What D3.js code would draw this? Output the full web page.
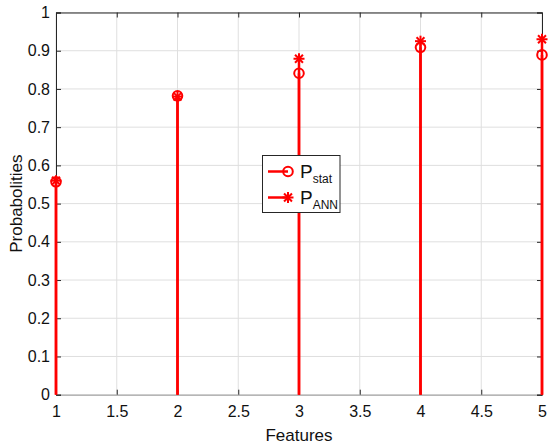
<!DOCTYPE html>
<html>
<head>
<meta charset="utf-8">
<script src="https://cdn.jsdelivr.net/npm/d3@7"></script>
<style>
  body { margin: 0; background: #fff; }
  svg { font-family: "Liberation Sans", Arial, sans-serif; }
</style>
</head>
<body>
<div id="chart"></div>
<script>
// chart data
const features = [1, 2, 3, 4, 5];
const pStat = [0.557, 0.782, 0.841, 0.909, 0.889];
const pAnn = [0.560, 0.780, 0.879, 0.925, 0.930];
const xTicks = [1, 1.5, 2, 2.5, 3, 3.5, 4, 4.5, 5];
const yTicks = [0, 0.1, 0.2, 0.3, 0.4, 0.5, 0.6, 0.7, 0.8, 0.9, 1];

const width = 549, height = 446;
const margin = { top: 12.5, right: 7, bottom: 51.3, left: 56 };
const red = "#ff0000";

const svg = d3.select("#chart").append("svg")
  .attr("width", width)
  .attr("height", height);

const x = d3.scaleLinear().domain([1, 5]).range([margin.left, width - margin.right]);
const y = d3.scaleLinear().domain([0, 1]).range([height - margin.bottom, margin.top]);

// grid
const grid = svg.append("g").attr("data-name", "grid");
grid.selectAll("line.gx").data(xTicks).join("line")
  .attr("class", "gx")
  .attr("x1", d => x(d)).attr("x2", d => x(d))
  .attr("y1", y(0)).attr("y2", y(1))
  .attr("stroke", "#dfdfdf").attr("stroke-width", 1);
grid.selectAll("line.gy").data(yTicks).join("line")
  .attr("class", "gy")
  .attr("x1", x(1)).attr("x2", x(5))
  .attr("y1", d => y(d)).attr("y2", d => y(d))
  .attr("stroke", "#dfdfdf").attr("stroke-width", 1);

// axes (ticks inward, matlab style)
const axisColor = "#262626";
const xAxis = svg.append("g")
  .attr("transform", `translate(0,${y(0)})`)
  .call(d3.axisBottom(x).tickValues(xTicks).tickSize(-5).tickPadding(11).tickFormat(d3.format("")));
const xTop = svg.append("g")
  .attr("transform", `translate(0,${y(1)})`)
  .call(d3.axisTop(x).tickValues(xTicks).tickSize(-5).tickFormat(""));
const yAxis = svg.append("g")
  .attr("transform", `translate(${x(1)},0)`)
  .call(d3.axisLeft(y).tickValues(yTicks).tickSize(-5).tickPadding(6).tickFormat(d3.format("")));
const yRight = svg.append("g")
  .attr("transform", `translate(${x(5)},0)`)
  .call(d3.axisRight(y).tickValues(yTicks).tickSize(-5).tickFormat(""));

[xAxis, xTop, yAxis, yRight].forEach(g => {
  g.select(".domain").attr("stroke", axisColor).attr("stroke-width", 1);
  g.selectAll(".tick line").attr("stroke", axisColor);
  g.selectAll("text").attr("fill", "#111").style("font-size", "16px")
    .style("font-family", "'Liberation Sans', Arial, sans-serif");
});
xAxis.select(".domain").attr("stroke", "#999");

// stems
function drawStems(values, name) {
  svg.append("g").attr("data-name", name + "-stems")
    .selectAll("line").data(values).join("line")
    .attr("x1", (d, i) => x(features[i])).attr("x2", (d, i) => x(features[i]))
    .attr("y1", y(0)).attr("y2", d => y(d))
    .attr("stroke", red).attr("stroke-width", 2.5);
}
drawStems(pStat, "stat");
drawStems(pAnn, "ann");

// markers
function circleMarker(g, cx, cy) {
  g.append("circle").attr("cx", cx).attr("cy", cy).attr("r", 4.8)
    .attr("fill", "none").attr("stroke", red).attr("stroke-width", 2);
}
function starMarker(g, cx, cy) {
  const r = 5.5, d = r * 0.72;
  const segs = [[-r, 0, r, 0], [0, -r, 0, r], [-d, -d, d, d], [-d, d, d, -d]];
  segs.forEach(s => g.append("line")
    .attr("x1", cx + s[0]).attr("y1", cy + s[1])
    .attr("x2", cx + s[2]).attr("y2", cy + s[3])
    .attr("stroke", red).attr("stroke-width", 2));
}
const marks = svg.append("g").attr("data-name", "markers");
pStat.forEach((v, i) => circleMarker(marks, x(features[i]), y(v)));
pAnn.forEach((v, i) => starMarker(marks, x(features[i]), y(v)));

// axis labels
svg.append("text")
  .attr("x", (x(1) + x(5)) / 2).attr("y", 441)
  .attr("text-anchor", "middle").attr("font-size", 17).attr("fill", "#111")
  .text("Features");
svg.append("text")
  .attr("transform", `translate(22,${(y(0) + y(1)) / 2}) rotate(-90)`)
  .attr("text-anchor", "middle").attr("font-size", 17).attr("fill", "#111")
  .text("Probabolities");

// legend
const lg = svg.append("g").attr("data-name", "legend");
lg.append("rect").attr("x", 262.5).attr("y", 155.5).attr("width", 77.5).attr("height", 57)
  .attr("fill", "#fff").attr("stroke", axisColor).attr("stroke-width", 1);
const items = [
  { sub: "stat", marker: circleMarker, cy: 171.5 },
  { sub: "ANN", marker: starMarker, cy: 197.5 }
];
items.forEach(it => {
  lg.append("line").attr("x1", 268).attr("x2", 288).attr("y1", it.cy).attr("y2", it.cy)
    .attr("stroke", red).attr("stroke-width", 2.5);
  it.marker(lg, 288, it.cy);
  const t = lg.append("text").attr("x", 300).attr("y", it.cy + 6)
    .attr("font-size", 19).attr("fill", "#111");
  t.append("tspan").text("P");
  t.append("tspan").attr("dy", 5).attr("font-size", 12).text(it.sub);
});
</script>
</body>
</html>
